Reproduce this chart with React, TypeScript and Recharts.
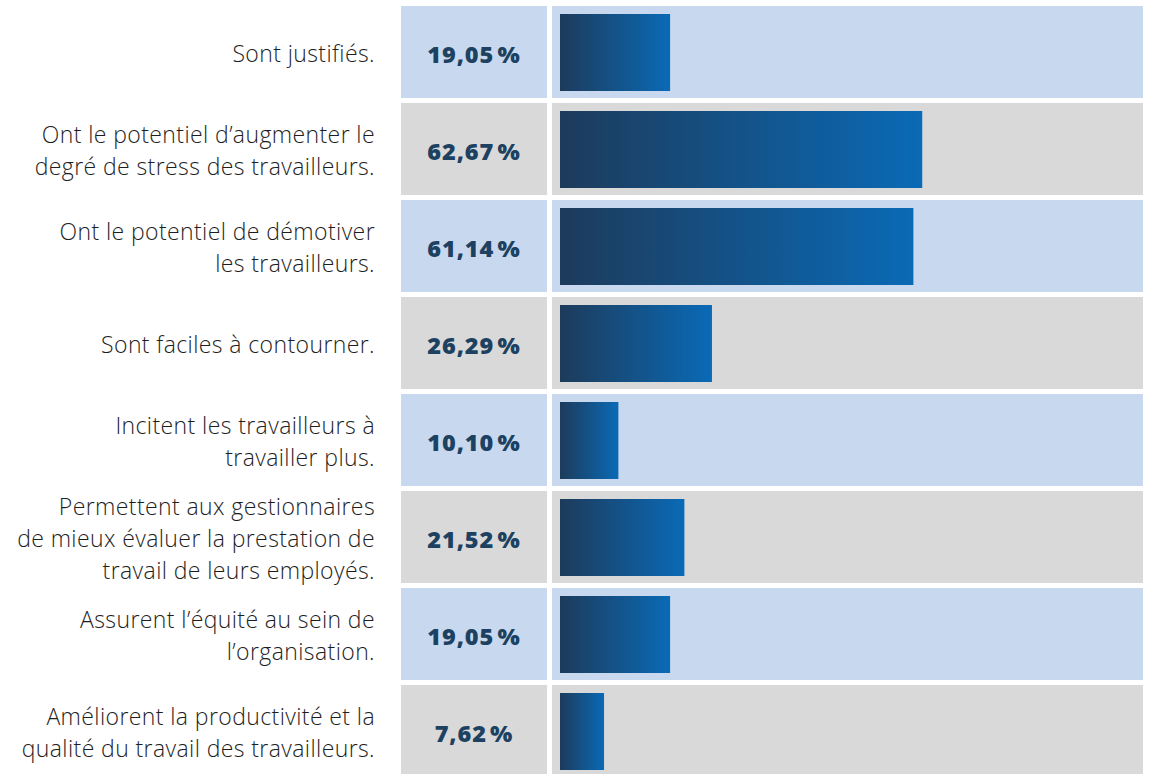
import React from "react";
import { BarChart, Bar, XAxis, YAxis } from "recharts";

const categories: string[] = [
  "Sont justifiés.",
  "Ont le potentiel d’augmenter le\ndegré de stress des travailleurs.",
  "Ont le potentiel de démotiver\nles travailleurs.",
  "Sont faciles à contourner.",
  "Incitent les travailleurs à\ntravailler plus.",
  "Permettent aux gestionnaires\nde mieux évaluer la prestation de\ntravail de leurs employés.",
  "Assurent l’équité au sein de\nl’organisation.",
  "Améliorent la productivité et la\nqualité du travail des travailleurs.",
];
const values: number[] = [19.05, 62.67, 61.14, 26.29, 10.1, 21.52, 19.05, 7.62];

const data = categories.map((name, i) => ({ name, value: values[i] }));

const ROW_GAP = 5;
const BLUE_BG = "#c8d8ef";
const GRAY_BG = "#d9d9d9";
const VALUE_COLOR = "#1d4161";
const LABEL_COLOR = "#1e1e1e";

const fmt = (v: number) => v.toFixed(2).replace(".", ",") + "\u200a%";

const RowBackground = (props: any) => {
  const { x, y, width, height, index } = props;
  const fill = index % 2 === 0 ? BLUE_BG : GRAY_BG;
  const h = height - ROW_GAP;
  return (
    <g>
      <rect x={x - 159} y={y} width={146} height={h} fill={fill} />
      <rect x={x - 8} y={y} width={width + 13} height={h} fill={fill} />
      <text
        x={x - 86}
        y={y + h / 2 + 2}
        textAnchor="middle"
        dominantBaseline="central"
        fontFamily="'Open Sans', 'Noto Sans', sans-serif"
        fontWeight={800}
        fontSize={23.5}
        letterSpacing={0.9}
        fill={VALUE_COLOR}
      >
        {fmt(values[index])}
      </text>
    </g>
  );
};

const GradientBar = (props: any) => {
  const { x, y, width, height } = props;
  return <rect x={x} y={y + 8} width={width} height={height - ROW_GAP - 15} fill="url(#barGrad)" />;
};

const LabelTick = (props: any) => {
  const { x, y, payload } = props;
  const lines: string[] = String(payload.value).split("\n");
  const lh = 32;
  const start = y - ((lines.length - 1) * lh) / 2 - ROW_GAP / 2 + 1;
  return (
    <text
      textAnchor="end"
      fontFamily="'Open Sans', Lato, sans-serif"
      fontWeight={300}
      fontSize={23}
      letterSpacing={0.4}
      fill={LABEL_COLOR}
    >
      {lines.map((l, i) => (
        <tspan key={i} x={x} y={start + i * lh} dominantBaseline="central">
          {l}
        </tspan>
      ))}
    </text>
  );
};

export default function App() {
  return (
    <div style={{ position: "absolute", left: 0, top: 0, background: "#fff" }}>
      <BarChart
        width={1152}
        height={782}
        data={data}
        layout="vertical"
        barCategoryGap={0}
        margin={{ top: 6, right: 14, bottom: 0, left: 0 }}
      >
        <defs>
          <linearGradient id="barGrad" x1="0" y1="0" x2="1" y2="0">
            <stop offset="0%" stopColor="#1d3b5b" />
            <stop offset="100%" stopColor="#0a6ab6" />
          </linearGradient>
        </defs>
        <XAxis type="number" domain={[0, 100]} hide />
        <YAxis
          type="category"
          dataKey="name"
          width={560}
          axisLine={false}
          tickLine={false}
          tickSize={0}
          tickMargin={185}
          interval={0}
          tick={<LabelTick />}
        />
        <Bar
          dataKey="value"
          isAnimationActive={false}
          background={<RowBackground />}
          shape={<GradientBar />}
        />
      </BarChart>
    </div>
  );
}
